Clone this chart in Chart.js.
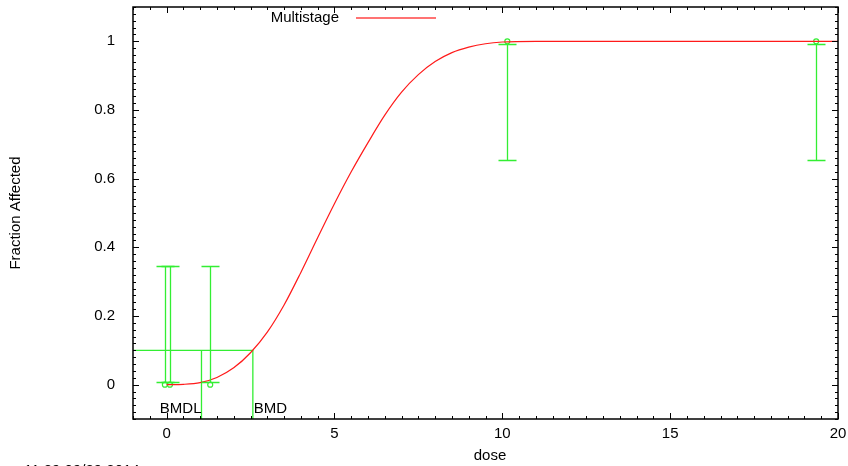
<!DOCTYPE html>
<html>
<head>
<meta charset="utf-8">
<script src="https://cdn.jsdelivr.net/npm/chart.js@4/dist/chart.umd.min.js"></script>
<style>
  html, body { margin: 0; padding: 0; background: #fff; }
  #wrap { width: 848px; height: 466px; }
</style>
</head>
<body>
<div id="wrap"><canvas id="doseChart" width="848" height="466"></canvas></div>
<script>
// fitted multistage curve (dose, fraction affected)
const curveDose = [0, 0.5, 1, 1.5, 2, 2.5, 3, 3.5, 4, 4.5, 5, 5.5, 6, 6.5, 7, 7.5, 8, 8.5, 9, 9.5, 10, 11, 20];
const curveFrac = [0, 0.001, 0.006, 0.021, 0.049, 0.093, 0.153, 0.232, 0.327, 0.428, 0.527, 0.62, 0.705, 0.785, 0.852, 0.903, 0.941, 0.967, 0.983, 0.993, 0.998, 1, 1];

// observed groups with confidence limits
const obsDose = [-0.05, 0.1, 1.3, 10.15, 19.35];
const obsFrac = [0, 0, 0, 1, 1];
const obsLower = [0.007, 0.007, 0.007, 0.655, 0.655];
const obsUpper = [0.345, 0.345, 0.345, 0.991, 0.991];

// benchmark dose markers
const bmr = 0.1;
const bmd = 2.57;
const bmdl = 1.04;

const xTickLabels = [0, 5, 10, 15, 20];
const yTickLabels = [0, 0.2, 0.4, 0.6, 0.8, 1];

const FONT = '"Liberation Sans", Arial, sans-serif';
const FONT_SIZE = 15;
const GREEN = '#33ee33';
const RED = '#ff1a1a';

const near = (v, list) => list.some(t => Math.abs(v - t) < 1e-6);

// frame, inward ticks on all four sides, error bars, BMD text, legend, x title, timestamp
const decorations = {
  id: 'decorations',
  afterDatasetsDraw(chart) {
    const { ctx, chartArea: a, scales: { x, y } } = chart;
    ctx.save();

    // error bars
    ctx.strokeStyle = GREEN;
    ctx.lineWidth = 1.3;
    obsDose.forEach((d, i) => {
      const px = Math.round(x.getPixelForValue(d)) + 0.5;
      const lo = Math.round(y.getPixelForValue(obsLower[i])) + 0.5;
      const hi = Math.round(y.getPixelForValue(obsUpper[i])) + 0.5;
      ctx.beginPath();
      ctx.moveTo(px, lo); ctx.lineTo(px, hi);
      ctx.moveTo(px - 9, lo); ctx.lineTo(px + 9, lo);
      ctx.moveTo(px - 9, hi); ctx.lineTo(px + 9, hi);
      ctx.stroke();
    });

    // frame
    ctx.strokeStyle = '#000';
    ctx.lineWidth = 1.5;
    ctx.strokeRect(a.left, a.top, a.right - a.left, a.bottom - a.top);

    ctx.lineWidth = 1;
    ctx.beginPath();
    for (let k = -2; k <= 40; k++) {
      const v = k * 0.5;
      const len = k % 10 === 0 ? 6 : 3;
      const px = Math.round(x.getPixelForValue(v)) + 0.5;
      ctx.moveTo(px, a.bottom); ctx.lineTo(px, a.bottom - len);
      ctx.moveTo(px, a.top); ctx.lineTo(px, a.top + len);
    }
    for (let k = -5; k <= 55; k++) {
      const v = k * 0.02;
      const len = k % 10 === 0 ? 6 : 3;
      const py = Math.round(y.getPixelForValue(v)) + 0.5;
      ctx.moveTo(a.left, py); ctx.lineTo(a.left + len, py);
      ctx.moveTo(a.right, py); ctx.lineTo(a.right - len, py);
    }
    ctx.stroke();

    // BMD / BMDL labels
    ctx.fillStyle = '#000';
    ctx.font = FONT_SIZE + 'px ' + FONT;
    ctx.textBaseline = 'middle';
    const labelY = y.getPixelForValue(-0.07);
    ctx.textAlign = 'right';
    ctx.fillText('BMDL', x.getPixelForValue(bmdl), labelY);
    ctx.textAlign = 'left';
    ctx.fillText('BMD', x.getPixelForValue(bmd) + 1, labelY);

    // legend
    ctx.textAlign = 'right';
    ctx.fillText('Multistage', 339, 18);
    ctx.strokeStyle = 'rgba(255, 40, 40, 0.65)';
    ctx.lineWidth = 2;
    ctx.beginPath();
    ctx.moveTo(356, 18); ctx.lineTo(436, 18);
    ctx.stroke();

    // x axis title
    ctx.textAlign = 'center';
    ctx.fillText('dose', 490, 456);

    // run timestamp
    ctx.textAlign = 'left';
    ctx.textBaseline = 'top';
    ctx.fillText('11:29 09/29 2014', 24, 463);
    ctx.restore();
  }
};

// drop the label overhang padding so the plot box sits at fixed edges
const noOverhang = s => { s.paddingTop = 0; s.paddingBottom = 0; s.paddingLeft = 0; s.paddingRight = 0; };

new Chart(document.getElementById('doseChart'), {
  type: 'scatter',
  data: {
    datasets: [
      {
        label: 'Multistage',
        data: curveDose.map((d, i) => ({ x: d, y: curveFrac[i] })),
        showLine: true,
        borderColor: RED,
        borderWidth: 1.2,
        pointRadius: 0,
        cubicInterpolationMode: 'monotone'
      },
      {
        label: 'BMD',
        data: [{ x: -1, y: bmr }, { x: bmd, y: bmr }, { x: bmd, y: -0.1 }],
        showLine: true,
        borderColor: GREEN,
        borderWidth: 1.3,
        pointRadius: 0,
        tension: 0
      },
      {
        label: 'BMDL',
        data: [{ x: bmdl, y: bmr }, { x: bmdl, y: -0.1 }],
        showLine: true,
        borderColor: GREEN,
        borderWidth: 1.3,
        pointRadius: 0,
        tension: 0
      },
      {
        label: 'Data',
        data: obsDose.map((d, i) => ({ x: d, y: obsFrac[i] })),
        showLine: false,
        pointStyle: 'circle',
        pointRadius: 2.5,
        borderColor: GREEN,
        borderWidth: 1.2,
        backgroundColor: 'rgba(0,0,0,0)'
      }
    ]
  },
  options: {
    responsive: false,
    animation: false,
    layout: { padding: { top: 7, right: 10, left: 0, bottom: 0 } },
    plugins: { legend: { display: false }, tooltip: { enabled: false } },
    scales: {
      x: {
        type: 'linear',
        min: -1,
        max: 20,
        afterFit: s => { s.height = 47; noOverhang(s); },
        grid: { display: false, drawTicks: false },
        border: { display: false },
        ticks: {
          stepSize: 0.5,
          autoSkip: false,
          maxRotation: 0,
          padding: 6,
          color: '#000',
          font: { family: FONT, size: FONT_SIZE },
          callback: v => near(v, xTickLabels) ? String(Math.round(v)) : ''
        }
      },
      y: {
        type: 'linear',
        min: -0.1,
        max: 1.1,
        afterFit: s => { s.width = 133; noOverhang(s); },
        grid: { display: false, drawTicks: false },
        border: { display: false },
        ticks: {
          stepSize: 0.02,
          autoSkip: false,
          padding: 18,
          color: '#000',
          font: { family: FONT, size: FONT_SIZE },
          callback: v => near(v, yTickLabels) ? String(Math.round(v * 10) / 10) : ''
        },
        title: {
          display: true,
          text: 'Fraction Affected',
          color: '#000',
          font: { family: FONT, size: FONT_SIZE },
          padding: { top: 7, bottom: 0 }
        }
      }
    }
  },
  plugins: [decorations]
});
</script>
</body>
</html>
